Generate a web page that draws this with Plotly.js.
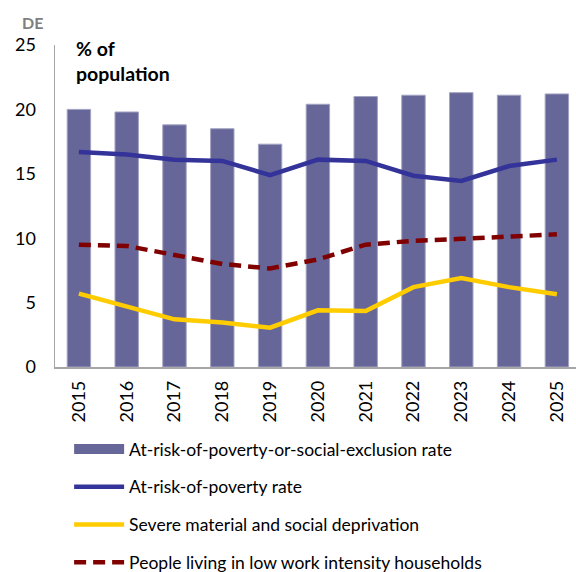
<!DOCTYPE html>
<html>
<head>
<meta charset="utf-8">
<script src="https://cdn.plot.ly/plotly-3.0.1.min.js"></script>
<style>html,body{margin:0;padding:0;background:#fff;}#chart{width:576px;height:572px;}</style>
</head>
<body>
<div id="chart"></div>
<script>
const years = ["2015","2016","2017","2018","2019","2020","2021","2022","2023","2024","2025"];
const arope = [20.0, 19.8, 18.8, 18.5, 17.3, 20.4, 21.0, 21.1, 21.3, 21.1, 21.2];
const arop = [16.7, 16.5, 16.1, 16.0, 14.9, 16.1, 16.0, 14.85, 14.45, 15.6, 16.1];
const smsd = [5.7, 4.7, 3.7, 3.45, 3.05, 4.4, 4.35, 6.2, 6.9, 6.2, 5.65];
const lwi = [9.5, 9.4, 8.7, 8.0, 7.65, 8.35, 9.5, 9.8, 9.95, 10.1, 10.3];
const seriesNames = [
  "At-risk-of-poverty-or-social-exclusion rate",
  "At-risk-of-poverty rate",
  "Severe material and social deprivation",
  "People living in low work intensity households"
];

const FONT = "Lato, 'Open Sans', sans-serif";

const traces = [
  {type:"bar", x:years, y:arope, name:seriesNames[0], legendgroup:"a", width:0.49, showlegend:false,
   marker:{color:"#666699", line:{color:"#a3a3c2", width:1}}},
  // legend proxy for the bar series (wide block symbol like the reference)
  {type:"scatter", mode:"lines", x:[years[0]], y:[null], name:seriesNames[0], legendgroup:"a",
   line:{color:"#666699", width:12}, hoverinfo:"skip"},
  {type:"scatter", mode:"lines", x:years, y:arop, name:seriesNames[1], legendgroup:"b",
   line:{color:"#333399", width:4.5}},
  {type:"scatter", mode:"lines", x:years, y:smsd, name:seriesNames[2], legendgroup:"c",
   line:{color:"#ffcc00", width:4.5}},
  {type:"scatter", mode:"lines", x:years, y:lwi, name:seriesNames[3], legendgroup:"d",
   line:{color:"#800000", width:4.5, dash:"12px,7px"}}
];

const layout = {
  width:576, height:572,
  margin:{l:55, r:0, t:45, b:205, autoexpand:false},
  paper_bgcolor:"#ffffff", plot_bgcolor:"#ffffff",
  font:{family:FONT, color:"#000000", size:16},
  showlegend:true,
  xaxis:{type:"category", range:[-0.5,10.4], showgrid:false, zeroline:false,
    showline:true, linecolor:"#a6a6a6", linewidth:1.5, ticks:"",
    ticklabelstandoff:5,
    tickangle:-90, tickfont:{family:FONT, size:18, color:"#000"}, fixedrange:true},
  yaxis:{range:[0,25], tickvals:[0,5,10,15,20,25], showgrid:false, zeroline:false,
    showline:true, linecolor:"#a6a6a6", linewidth:1.5, ticks:"",
    ticklabelstandoff:14,
    tickfont:{family:FONT, size:18, color:"#000"}, fixedrange:true},
  legend:{xref:"container", yref:"container", x:0.12, y:0.2465, xanchor:"left", yanchor:"top",
    orientation:"v", itemwidth:50, tracegroupgap:12, traceorder:"grouped",
    font:{family:FONT, size:17.5, color:"#000"}, bgcolor:"rgba(0,0,0,0)"},
  annotations:[
    {xref:"paper", yref:"paper", x:-0.068, y:1.071, xanchor:"left", yanchor:"middle",
     text:"<b>DE</b>", showarrow:false, font:{family:FONT, size:16, color:"#7f7f7f"}},
    {xref:"paper", yref:"paper", x:0.036, y:1.03, xanchor:"left", yanchor:"top", align:"left",
     text:"<b>% of<br>population</b>", showarrow:false, font:{family:FONT, size:19.5, color:"#000"}}
  ]
};

Plotly.newPlot("chart", traces, layout, {displayModeBar:false, staticPlot:true});
</script>
</body>
</html>
